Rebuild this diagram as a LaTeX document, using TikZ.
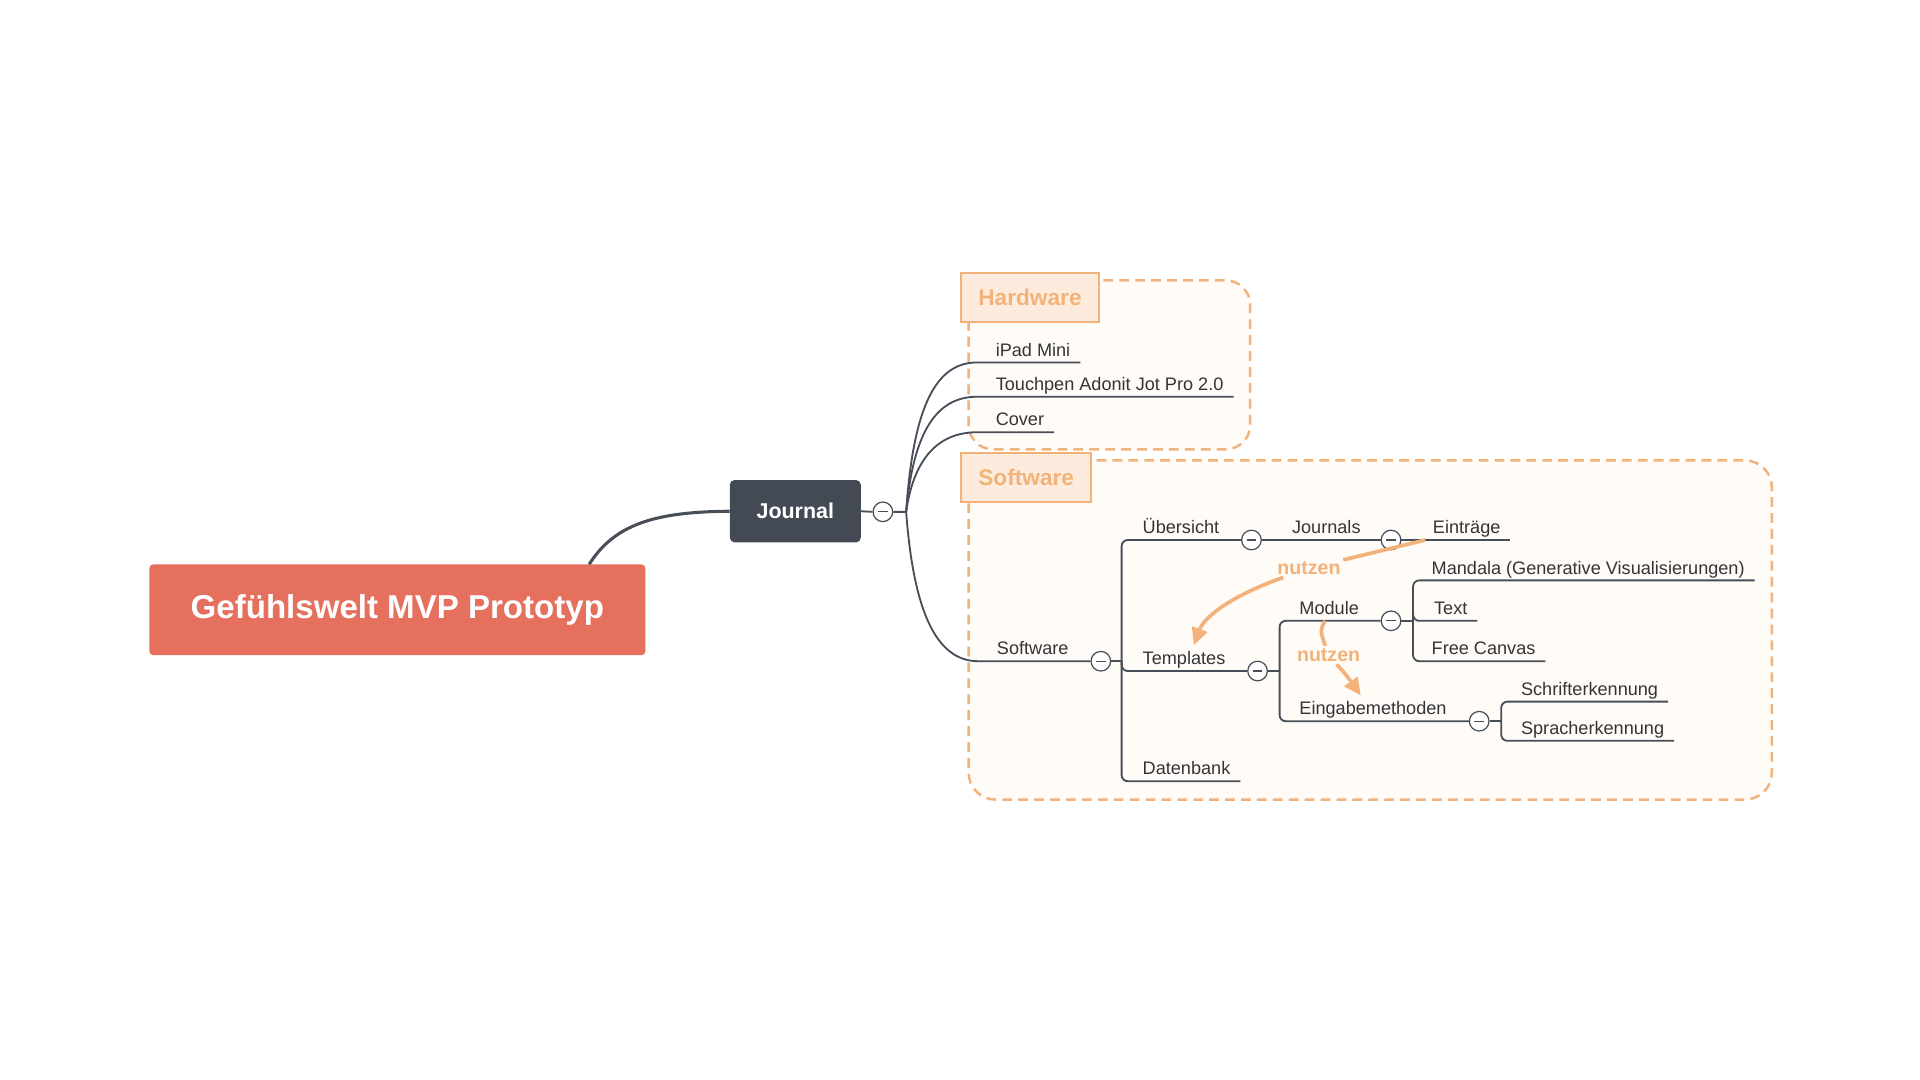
\documentclass[tikz,border=0pt]{standalone}
\usepackage{fontspec}
\setmainfont{Liberation Sans}
\usepackage{tikz}
\usetikzlibrary{shapes}
\usetikzlibrary{arrows.meta}
\definecolor{coral}{RGB}{229,112,94}
\definecolor{slate}{RGB}{67,74,84}
\definecolor{wire}{RGB}{72,78,88}
\definecolor{ink}{RGB}{52,52,56}
\definecolor{peach}{RGB}{242,178,122}
\definecolor{peachfill}{RGB}{253,236,221}
\definecolor{cream}{RGB}{255,251,247}
\tikzstyle{title} = [fill=coral,rounded corners=3pt,text=white,
minimum width=405pt, minimum height=74pt, font=\bfseries\fontsize{27}{30}\selectfont]
\tikzstyle{central} = [fill=slate,rounded corners=4pt,text=white,
minimum width=107pt, minimum height=51pt, font=\bfseries\fontsize{17.5}{20}\selectfont]
\tikzstyle{topic} = [anchor=south west,inner xsep=0pt,inner ysep=2pt,text depth=3pt,
text=ink, font=\fontsize{14.8}{17}\selectfont]
\tikzstyle{fold} = [circle,draw=wire,fill=white,line width=1pt,inner sep=0pt,
minimum size=16pt, text=wire]
\tikzstyle{limb} = [draw=wire,line width=1.5pt,rounded corners=5pt]
\tikzstyle{region} = [draw=peach,fill=cream,line width=2pt,
dash pattern=on 8pt off 5pt, rounded corners=20pt]
\tikzstyle{tag} = [anchor=north west,draw=peach,fill=peachfill,line width=2pt,
inner xsep=14pt, minimum height=40pt, text=peach, font=\bfseries\fontsize{18.5}{20}\selectfont]
\tikzstyle{rel} = [inner sep=2pt,text=peach,font=\bfseries\fontsize{16}{18}\selectfont]
\tikzstyle{uses} = [draw=peach,line width=3pt,>={Triangle[length=14pt,width=13pt]}]
\newcommand{\foldbar}{\rule{8pt}{1pt}}
\newcommand{\fork}[2]{ %
  % Underline every topic #2 from the fork point #1.
  \foreach \y in {#2} { %
    \draw[limb] (#1) |- ([xshift=8pt]\y.south east) ;%
  } ;
}

\begin{document}
\begin{tikzpicture}[x=1pt,y=-1pt]
  \fill[white] (0,0) rectangle (1568,882);
  % boundaries
  \draw[region] (791,229) rectangle (1021,367);
  \draw[region, rounded corners=22pt] (791,376) rectangle (1447,653);
  \node[tag](hwtag) at (784,222) {Hardware};
  \node[tag](swtag) at (784,369) {Software};
  % topics
  \node[title](title) at (324.5,498) {Gefühlswelt MVP Prototyp};
  \node[central](journal) at (649.5,417.5) {Journal};
  \node[fold](cjournal) at (721,418) {\foldbar};
  \coordinate (jfork) at (740,418);
  \node[topic](ipad) at (813,296) {iPad Mini};
  \node[topic](touchpen) at (813,324) {Touchpen Adonit Jot Pro 2.0};
  \node[topic](cover) at (813,353) {Cover};
  \node[topic](sw) at (814,540) {Software};
  \node[fold](csw) at (899,540) {\foldbar};
  \coordinate (swfork) at (916,540);
  \node[topic](ueb) at (933,441) {Übersicht};
  \node[fold](cueb) at (1022,441) {\foldbar};
  \node[topic](journals) at (1055,441) {Journals};
  \node[fold](cjournals) at (1136,441) {\foldbar};
  \node[topic](eintr) at (1170,441) {Einträge};
  \node[topic](tmpl) at (933,548) {Templates};
  \node[fold](ctmpl) at (1027,548) {\foldbar};
  \coordinate (tmplfork) at (1045,548);
  \node[topic](module) at (1061,507) {Module};
  \node[fold](cmodule) at (1136,507) {\foldbar};
  \coordinate (modfork) at (1154,507);
  \node[topic](mandala) at (1169,474) {Mandala (Generative Visualisierungen)};
  \node[topic](txt) at (1171,507) {Text};
  \node[topic](canvas) at (1169,540) {Free Canvas};
  \node[topic](eingabe) at (1061,589) {Eingabemethoden};
  \node[fold](ceingabe) at (1208,589) {\foldbar};
  \coordinate (infork) at (1226,589);
  \node[topic](schrift) at (1242,573) {Schrifterkennung};
  \node[topic](sprache) at (1242,605) {Spracherkennung};
  \node[topic](db) at (933,638) {Datenbank};
  % connectors
  \draw[limb, line width=2.5pt] ([xshift=-46pt]title.north east)
    .. controls (502,428) and (535,418) .. (journal.west);
  \draw[limb] (journal.east) -- (cjournal.west) (cjournal.east) -- (jfork);
  \foreach \t/\h in {ipad/88, touchpen/66, cover/42} {
    \draw[limb] (jfork) .. controls +(6,-\h) and +(-38,0) .. ([xshift=-10pt]\t.south west)
      -- ([xshift=8pt]\t.south east);
  }
  \draw[limb] (jfork) .. controls +(6,80) and +(-40,0) .. ([xshift=-10pt]sw.south west)
    -- (csw.west);
  \draw[limb] (csw.east) -- (swfork);
  \draw[limb] (swfork) |- (cueb.west);
  \draw[limb] (swfork) |- (ctmpl.west);
  \fork{swfork}{db}
  \draw[limb] (cueb.east) -- (cjournals.west);
  \draw[limb] (cjournals.east) -- ([xshift=8pt]eintr.south east);
  \draw[limb] (ctmpl.east) -- (tmplfork);
  \draw[limb] (tmplfork) |- (cmodule.west);
  \draw[limb] (tmplfork) |- (ceingabe.west);
  \draw[limb] (cmodule.east) -- (modfork);
  \fork{modfork}{mandala,txt,canvas}
  \draw[limb] (ceingabe.east) -- (infork);
  \fork{infork}{schrift,sprache}
  % relations
  \node[rel](use1) at (1069,464) {nutzen};
  \node[rel](use2) at (1085,535) {nutzen};
  \draw[uses] ([xshift=-6pt]eintr.south west) -- (use1);
  \draw[uses,->] (use1) .. controls (1002,488) and (983,505) .. ([xshift=8pt,yshift=3pt]tmpl.north);
  \draw[uses] ([xshift=21pt]module.south west) .. controls +(-4,8) .. (use2);
  \draw[uses,->] (use2) .. controls (1100,552) .. ([xshift=-10pt,yshift=3pt]eingabe.north);
\end{tikzpicture}
\end{document}
